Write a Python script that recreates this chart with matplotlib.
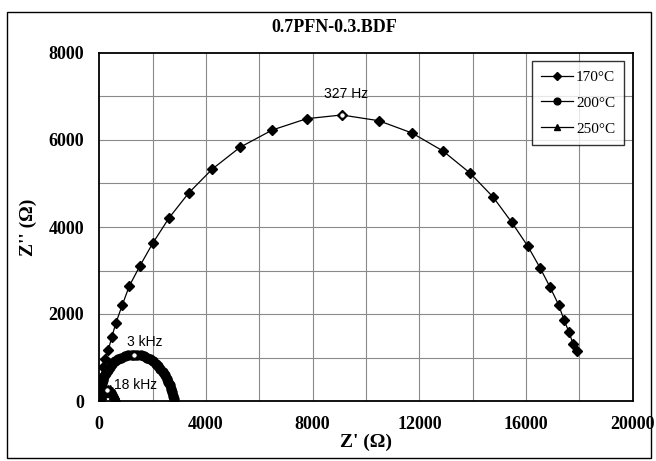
import matplotlib
matplotlib.use('Agg')
import matplotlib.pyplot as plt
from matplotlib.patches import Rectangle

# impedance data, Z' and Z'' in ohms
z1_170 = [20, 50, 90, 127, 214, 337, 465, 626, 862, 1125, 1526, 2002, 2613, 3352,
          4237, 5276, 6487, 7777, 9089, 10476, 11725, 12887, 13900, 14773, 15463,
          16063, 16524, 16899, 17225, 17424, 17611, 17761, 17900]
z2_170 = [180, 360, 560, 775, 959, 1172, 1464, 1800, 2207, 2644, 3110, 3625, 4207, 4782,
          5333, 5832, 6230, 6490, 6575, 6444, 6161, 5747, 5241, 4683, 4108,
          3563, 3064, 2621, 2207, 1862, 1586, 1317, 1149]

z1_200 = [10, 25, 45, 70, 100, 140, 190, 250, 320, 400, 490, 590, 700, 820, 950, 1080,
          1210, 1305, 1420, 1550, 1680, 1800, 1910, 2010, 2110, 2200, 2290, 2370, 2450,
          2520, 2580, 2640, 2690, 2740, 2780, 2815]
z2_200 = [60, 150, 240, 330, 410, 490, 570, 650, 720, 790, 850, 910, 960, 1000, 1030, 1050,
          1062, 1065, 1062, 1050, 1030, 1000, 960, 915, 860, 800, 735, 665, 590,
          515, 440, 360, 280, 200, 120, 40]

z1_250 = [5, 20, 50, 100, 170, 250, 330, 410, 480, 540, 590, 620]
z2_250 = [40, 100, 160, 210, 245, 262, 262, 245, 210, 160, 100, 40]

# marked frequencies: (Z', Z'', label)
freq_pts = [(9089, 6575, '327 Hz'), (1305, 1065, '3 kHz'), (290, 262, '18 kHz')]
freq_text = [(9250, 7060), (1720, 1360), (1370, 370)]

x_ticks = [0, 4000, 8000, 12000, 16000, 20000]
y_ticks = [0, 2000, 4000, 6000, 8000]

serif = 'Liberation Serif'

fig = plt.figure(figsize=(6.56, 4.61), dpi=100)
W, H = 656, 461
ax = fig.add_axes([99.3 / W, 1 - 401 / H, 533.4 / W, 348 / H])

ax.set_xlim(0, 20000)
ax.set_ylim(0, 8000)

# grid every 2000 on Z', every 1000 on Z''
for gx in range(2000, 20000, 2000):
    ax.axvline(gx, color='#8a8a8a', lw=0.8, zorder=0)
for gy in range(1000, 8000, 1000):
    ax.axhline(gy, color='#8a8a8a', lw=0.8, zorder=0)

ax.plot(z1_170, z2_170, '-', color='black', lw=0.9, marker='D', ms=5.2,
        mfc='black', mec='black', label='170°C', zorder=3)
ax.plot(z1_200, z2_200, '-', color='black', lw=0.9, marker='o', ms=6.5,
        mfc='black', mec='black', label='200°C', zorder=3)
ax.plot(z1_250, z2_250, '-', color='black', lw=0.9, marker='^', ms=6.5,
        mfc='black', mec='black', label='250°C', zorder=3)

for (fx, fy, lab), (tx, ty) in zip(freq_pts, freq_text):
    ax.plot(fx, fy, 'o', ms=4, mfc='white', mec='black', mew=0.8, zorder=4)
    ax.text(tx, ty, lab, ha='center', va='center', fontsize=10,
            family='Liberation Sans', zorder=5)

ax.set_xticks(x_ticks)
ax.set_yticks(y_ticks)
ax.tick_params(length=0, pad=11)
for t in ax.get_xticklabels() + ax.get_yticklabels():
    t.set_family(serif)
    t.set_fontweight('bold')
    t.set_fontsize(13)

for s in ax.spines.values():
    s.set_linewidth(1.3)

ax.set_xlabel("Z' (\u03a9)", family=serif, fontweight='bold', fontsize=14, labelpad=0)
ax.set_ylabel("Z'' (\u03a9)", family=serif, fontweight='bold', fontsize=14, labelpad=8)

leg = ax.legend(loc='upper right', bbox_to_anchor=(624.3 / W, 1 - 61 / H),
                bbox_transform=fig.transFigure, prop={'family': serif, 'size': 11},
                frameon=True, fancybox=False, borderpad=0.6, labelspacing=0.8,
                handlelength=2.1, handletextpad=0.2, borderaxespad=0, markerscale=0.75)
leg.get_frame().set_edgecolor('black')
leg.get_frame().set_linewidth(1.0)

fig.text(334 / W, 1 - 27 / H, '0.7PFN-0.3.BDF', ha='center', va='center',
         family=serif, fontweight='bold', fontsize=13)

# outer frame around the whole chart
fig.patches.append(Rectangle((7 / W, 3 / H), 644 / W, 446 / H, transform=fig.transFigure,
                             fill=False, edgecolor='black', lw=1.0))

fig.savefig('out.png', dpi=100)
plt.close(fig)
